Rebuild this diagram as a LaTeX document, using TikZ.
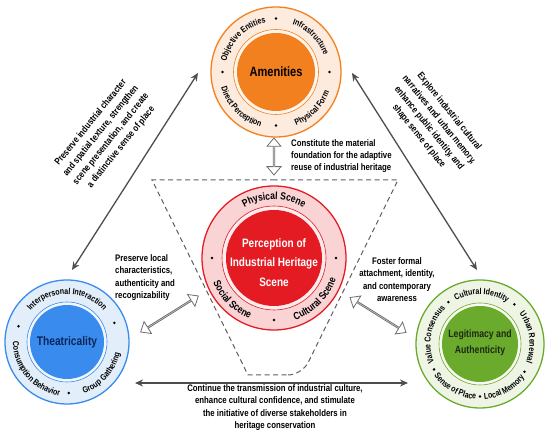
\documentclass[tikz,border=0pt]{standalone}
\usepackage{fontspec}
\newfontfamily\nar{Liberation Sans}[FakeStretch=0.82]
\usetikzlibrary{arrows.meta,shapes.arrows,decorations.text}
\definecolor{amc}{HTML}{F2801F}
\definecolor{amring}{HTML}{FDEBDD}
\definecolor{amgap}{HTML}{FFF6EE}
\definecolor{pc}{HTML}{E41B23}
\definecolor{pring}{HTML}{FAD3D5}
\definecolor{pgap}{HTML}{FDEDEE}
\definecolor{tc}{HTML}{3A8BEE}
\definecolor{tring}{HTML}{E3EEFB}
\definecolor{tgap}{HTML}{F2F7FE}
\definecolor{tdark}{HTML}{0B2559}
\definecolor{lc}{HTML}{6AAA2C}
\definecolor{lring}{HTML}{EEF5E4}
\definecolor{lgap}{HTML}{F7FBF1}
\definecolor{ldark}{HTML}{1C2A10}
\definecolor{arrgray}{HTML}{4D4D4D}
\definecolor{hollowgray}{HTML}{6E6E6E}
\newcommand\ringf{\nar\bfseries\fontsize{8.6}{10}\selectfont}
\newcommand\ringfbig{\nar\bfseries\fontsize{10.4}{12}\selectfont}
\newcommand\annf{\nar\bfseries\fontsize{9.5}{12.4}\selectfont}
\newcommand\diagf{\nar\bfseries\fontsize{9.5}{13}\selectfont}
\newcommand\ringlabel[6][\ringf]{\path[decorate,decoration={text along path,text align=center,text={|#1|#6}}] (#2.center) ++(#4:#3) arc[start angle=#4,end angle=#5,radius=#3];}
\tikzset{
  outerring/.style={circle,inner sep=0pt,line width=1.3pt},
  gapring/.style={circle,inner sep=0pt,line width=0.6pt},
  core/.style={circle,inner sep=0pt,align=center},
  grayarrow/.style={draw=arrgray,line width=1.3pt,{Stealth[length=8pt,width=7pt]}-{Stealth[length=8pt,width=7pt]}},
  hollow/.style={double arrow,draw=hollowgray,fill=white,line width=0.8pt,inner sep=0pt,minimum width=14pt,double arrow head extend=3.5pt,double arrow tip angle=80},
  dashline/.style={draw=arrgray!90,line width=1pt,dash pattern=on 5pt off 3.5pt},
  ann/.style={font=\annf,text=black,inner sep=0pt},
  diag/.style={font=\diagf,text=black,inner sep=0pt,align=center},
  dotmark/.style={fill=black}
}
\begin{document}
\begin{tikzpicture}[x=1pt,y=1pt]
\useasboundingbox (0,0) rectangle (550,435);
% dashed frame
\draw[dashline] (275,255) -- (152,255) -- (248,60) [rounded corners=14pt] -- (275,60) -- (302,60) [sharp corners] -- (398,255) -- cycle;
% Amenities
\node[outerring,fill=amring,draw=amc,minimum size=130pt] (A) at (276,363) {};
\node[gapring,fill=amgap,draw=amc,minimum size=85pt] (Ag) at (A.center) {};
\node[core,fill=amc,minimum size=78pt,font=\nar\bfseries\fontsize{13.5}{15}\selectfont] (Al) at (A.center) {Amenities};
\ringlabel{A}{50.5}{178}{92}{Objective Entities}
\ringlabel{A}{50.5}{88}{2}{Infrastructure}
\ringlabel{A}{57}{182}{268}{Direct Perception}
\ringlabel{A}{57}{272}{358}{Physical Form}
\foreach \a in {0,90,180,270} \fill[dotmark] (A.center) ++(\a:53.5) circle (1.4pt);
% Perception
\node[outerring,fill=pring,draw=pc,minimum size=144pt] (P) at (274,177) {};
\node[gapring,fill=pgap,draw=pc,minimum size=104pt] (Pg) at (P.center) {};
\node[core,fill=pc,minimum size=96pt] (Pl) at (P.center) {};
\node[text=white,align=center,font=\nar\bfseries\fontsize{12.2}{19.5}\selectfont] (Pt) at (274,172.5) {Perception of\\Industrial Heritage\\Scene};
\ringlabel[\ringfbig]{P}{58.5}{160}{20}{Physical Scene}
\ringlabel[\ringfbig]{P}{65.5}{183}{267}{Social Scene}
\ringlabel[\ringfbig]{P}{65.5}{273}{357}{Cultural Scene}
\foreach \a in {0,180,270} \fill[dotmark] (P.center) ++(\a:62) circle (1.4pt);
% Theatricality
\node[outerring,fill=tring,draw=tc,minimum size=124pt] (T) at (67,93) {};
\node[gapring,fill=tgap,draw=tc,minimum size=80pt] (Tg) at (T.center) {};
\node[core,fill=tc,minimum size=74pt,text=tdark,font=\nar\bfseries\fontsize{12.5}{15}\selectfont] (Tl) at (T.center) {Theatricality};
\ringlabel{T}{48}{178}{2}{Interpersonal Interaction}
\ringlabel{T}{54}{170}{272}{Consumption Behavior}
\ringlabel{T}{54}{276}{360}{Group Gathering}
\foreach \a in {162,22,272} \fill[dotmark] (T.center) ++(\a:51) circle (1.4pt);
% Legitimacy
\node[outerring,fill=lring,draw=lc,minimum size=128pt] (L) at (480,91) {};
\node[gapring,fill=lgap,draw=lc,minimum size=82pt] (Lg) at (L.center) {};
\node[core,fill=lc,minimum size=76pt] (Ll) at (L.center) {};
\node[text=ldark,align=center,font=\nar\bfseries\fontsize{10.6}{16}\selectfont] (Lt) at (480,92) {Legitimacy and\\Authenticity};
\ringlabel{L}{49.5}{128}{48}{Cultural Identity}
\ringlabel{L}{49.5}{48}{-32}{Urban Renewal}
\ringlabel{L}{49.5}{208}{128}{Value Consensus}
\ringlabel{L}{55.5}{211}{269}{Sense of Place}
\ringlabel{L}{55.5}{271}{327}{Local Memory}
\foreach \a in {127,49,209,270,328} \fill[dotmark] (L.center) ++(\a:52.5) circle (1.4pt);
% gray arrows
\coordinate (a1) at (198,362);
\coordinate (a2) at (72,165);
\coordinate (b1) at (352,362);
\coordinate (b2) at (477,165);
\coordinate (c1) at (135,52);
\coordinate (c2) at (408,52);
\draw[grayarrow] (a1) -- (a2);
\draw[grayarrow] (b1) -- (b2);
\draw[grayarrow] (c1) -- (c2);
% hollow arrows
\node[hollow,minimum height=37pt,rotate=90] (hA) at (274,278.5) {};
\node[hollow,minimum height=68pt,rotate=32] (hT) at (169.5,121) {};
\node[hollow,minimum height=66pt,rotate=-32] (hL) at (378,120) {};
% annotations
\node[ann,align=left,anchor=west] (n1) at (291,279) {Constitute the material\\foundation for the adaptive\\reuse of industrial heritage};
\node[ann,align=left,anchor=west] (n2) at (115,157.5) {Preserve local\\characteristics,\\authenticity and\\recognizability};
\node[ann,align=center] (n3) at (397,155.5) {Foster formal\\attachment, identity,\\and contemporary\\awareness};
\node[ann,align=center] (n4) at (275,27.5) {Continue the transmission of industrial culture,\\enhance cultural confidence, and stimulate\\the initiative of diverse stakeholders in\\heritage conservation};
\node[diag,rotate=51] (n5) at (106,300) {Preserve industrial character\\and spatial texture, strengthen\\scene presentation, and create\\a distinctive sense of place};
\node[diag,rotate=-51] (n6) at (434,311) {Explore industrial cultural\\narratives and urban memory,\\enhance public identity, and\\shape sense of place};
\end{tikzpicture}
\end{document}
